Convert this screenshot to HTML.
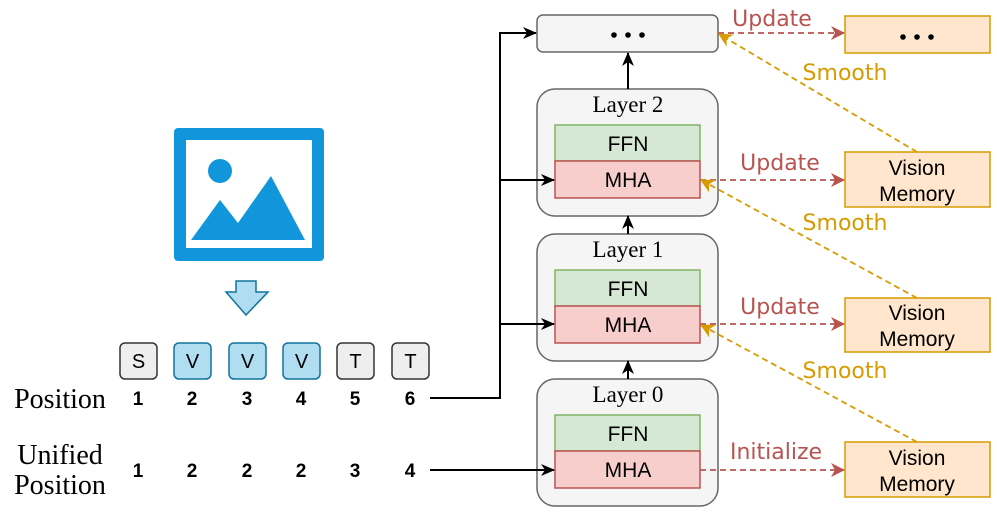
<!DOCTYPE html>
<html><head><meta charset="utf-8"><style>body{margin:0;background:#fff}svg{display:block}</style></head><body>
<svg width="997" height="516" viewBox="0 0 997 516" xmlns="http://www.w3.org/2000/svg">
<defs>
<marker id="ak" markerWidth="14" markerHeight="12" refX="13" refY="6" orient="auto" markerUnits="userSpaceOnUse"><path d="M0,0 L14,6 L0,12 L4,6z" fill="#000"/></marker>
<marker id="ar" markerWidth="14" markerHeight="14" refX="13" refY="7" orient="auto" markerUnits="userSpaceOnUse"><path d="M0,0 L14,7 L0,14 L4,7z" fill="#b85450"/></marker>
<marker id="ao" markerWidth="14" markerHeight="14" refX="13" refY="7" orient="auto" markerUnits="userSpaceOnUse"><path d="M0,0 L14,7 L0,14 L4,7z" fill="#d79b00"/></marker>
</defs>
<!-- image icon -->
<rect x="174" y="128" width="150" height="133" rx="4" fill="#1296db"/>
<rect x="186" y="140" width="126" height="108" fill="#fff"/>
<circle cx="220" cy="171" r="12" fill="#1296db"/>
<path d="M191,240 L220,200 L238,223 L271,176 L305,240Z" fill="#1296db"/>
<path d="M236,281 H256 V292 H268 L246,315 L226,292 H236Z" fill="#b1ddf0" stroke="#10739e" stroke-width="1.5"/>
<!-- tokens -->
<g font-family="Liberation Sans,sans-serif" font-size="20" text-anchor="middle">
<rect x="120" y="343" width="37" height="36" rx="5" fill="#eee" stroke="#333" stroke-width="1.5"/><text x="138.5" y="368">S</text>
<rect x="174" y="343" width="37" height="36" rx="5" fill="#b1ddf0" stroke="#10739e" stroke-width="1.5"/><text x="192.5" y="368">V</text>
<rect x="229" y="343" width="37" height="36" rx="5" fill="#b1ddf0" stroke="#10739e" stroke-width="1.5"/><text x="247.5" y="368">V</text>
<rect x="283" y="343" width="37" height="36" rx="5" fill="#b1ddf0" stroke="#10739e" stroke-width="1.5"/><text x="301.5" y="368">V</text>
<rect x="337" y="343" width="37" height="36" rx="5" fill="#eee" stroke="#333" stroke-width="1.5"/><text x="355.5" y="368">T</text>
<rect x="392" y="343" width="37" height="36" rx="5" fill="#eee" stroke="#333" stroke-width="1.5"/><text x="410.5" y="368">T</text>
</g>
<g font-family="Liberation Sans,sans-serif" font-size="19" font-weight="bold" text-anchor="middle">
<text x="138" y="405">1</text><text x="192" y="405">2</text><text x="247" y="405">3</text><text x="301" y="405">4</text><text x="355" y="405">5</text><text x="410" y="405">6</text>
<text x="138" y="477">1</text><text x="192" y="477">2</text><text x="247" y="477">2</text><text x="301" y="477">2</text><text x="355" y="477">3</text><text x="410" y="477">4</text>
</g>
<g font-family="Liberation Serif,serif" font-size="28" text-anchor="middle">
<text x="60" y="408">Position</text>
<text x="60" y="464">Unified</text>
<text x="60" y="494">Position</text>
</g>
<!-- layers -->
<rect x="537" y="15" width="181" height="37" rx="6" fill="#f5f5f5" stroke="#666" stroke-width="1.5"/>
<g fill="#000"><circle cx="614" cy="35" r="2.8"/><circle cx="628" cy="35" r="2.8"/><circle cx="642" cy="35" r="2.8"/></g>
<g font-family="Liberation Sans,sans-serif" font-size="21" text-anchor="middle">
<rect x="537" y="89" width="181" height="127" rx="18" fill="#f5f5f5" stroke="#666" stroke-width="1.5"/>
<text x="628" y="112" font-family="Liberation Serif,serif" font-size="23">Layer 2</text>
<rect x="555" y="125" width="145" height="36" fill="#d5e8d4" stroke="#82b366" stroke-width="1.5"/><text x="628" y="151">FFN</text>
<rect x="555" y="161" width="145" height="37" fill="#f8cecc" stroke="#b85450" stroke-width="1.5"/><text x="628" y="187">MHA</text>
<rect x="537" y="234" width="181" height="127" rx="18" fill="#f5f5f5" stroke="#666" stroke-width="1.5"/>
<text x="628" y="257" font-family="Liberation Serif,serif" font-size="23">Layer 1</text>
<rect x="555" y="270" width="145" height="36" fill="#d5e8d4" stroke="#82b366" stroke-width="1.5"/><text x="628" y="296">FFN</text>
<rect x="555" y="306" width="145" height="37" fill="#f8cecc" stroke="#b85450" stroke-width="1.5"/><text x="628" y="332">MHA</text>
<rect x="537" y="379" width="181" height="127" rx="18" fill="#f5f5f5" stroke="#666" stroke-width="1.5"/>
<text x="628" y="402" font-family="Liberation Serif,serif" font-size="23">Layer 0</text>
<rect x="555" y="415" width="145" height="36" fill="#d5e8d4" stroke="#82b366" stroke-width="1.5"/><text x="628" y="441">FFN</text>
<rect x="555" y="451" width="145" height="37" fill="#f8cecc" stroke="#b85450" stroke-width="1.5"/><text x="628" y="477">MHA</text>
<!-- memories -->
<rect x="845" y="16" width="145" height="37" fill="#ffe6cc" stroke="#d79b00" stroke-width="1.5"/>
<rect x="845" y="152" width="145" height="55" fill="#ffe6cc" stroke="#d79b00" stroke-width="1.5"/><text x="917" y="175">Vision</text><text x="917" y="201">Memory</text>
<rect x="845" y="298" width="145" height="54" fill="#ffe6cc" stroke="#d79b00" stroke-width="1.5"/><text x="917" y="320">Vision</text><text x="917" y="346">Memory</text>
<rect x="845" y="442" width="145" height="55" fill="#ffe6cc" stroke="#d79b00" stroke-width="1.5"/><text x="917" y="465">Vision</text><text x="917" y="491">Memory</text>
</g>
<g fill="#000"><circle cx="903" cy="37" r="2.8"/><circle cx="917" cy="37" r="2.8"/><circle cx="931" cy="37" r="2.8"/></g>
<!-- connectors -->
<g fill="none" stroke="#000" stroke-width="2">
<path d="M430,398 H500 V33 H536" marker-end="url(#ak)"/>
<path d="M500,180 H554" marker-end="url(#ak)"/>
<path d="M500,324 H554" marker-end="url(#ak)"/>
<path d="M430,470 H554" marker-end="url(#ak)"/>
<path d="M628,89 V53" marker-end="url(#ak)"/>
<path d="M628,234 V216" marker-end="url(#ak)"/>
<path d="M628,379 V361" marker-end="url(#ak)"/>
</g>
<!-- dashed -->
<g fill="none" stroke-width="1.8" stroke-dasharray="6,4">
<path d="M718,33 H844" stroke="#b85450" marker-end="url(#ar)"/>
<path d="M700,180 H844" stroke="#b85450" marker-end="url(#ar)"/>
<path d="M700,324 H844" stroke="#b85450" marker-end="url(#ar)"/>
<path d="M700,470 H844" stroke="#b85450" marker-end="url(#ar)"/>
<path d="M917,152 L719,34" stroke="#d79b00" marker-end="url(#ao)"/>
<path d="M917,298 L701,180" stroke="#d79b00" marker-end="url(#ao)"/>
<path d="M917,442 L701,325" stroke="#d79b00" marker-end="url(#ao)"/>
</g>
<g font-family="DejaVu Sans,sans-serif" font-size="22" text-anchor="middle">
<text x="772" y="26" fill="#b85450">Update</text>
<text x="780" y="170" fill="#b85450">Update</text>
<text x="780" y="314" fill="#b85450">Update</text>
<text x="776" y="459" fill="#b85450">Initialize</text>
<text x="845" y="80" fill="#d79b00">Smooth</text>
<text x="845" y="230" fill="#d79b00">Smooth</text>
<text x="845" y="378" fill="#d79b00">Smooth</text>
</g>
</svg>
</body></html>
